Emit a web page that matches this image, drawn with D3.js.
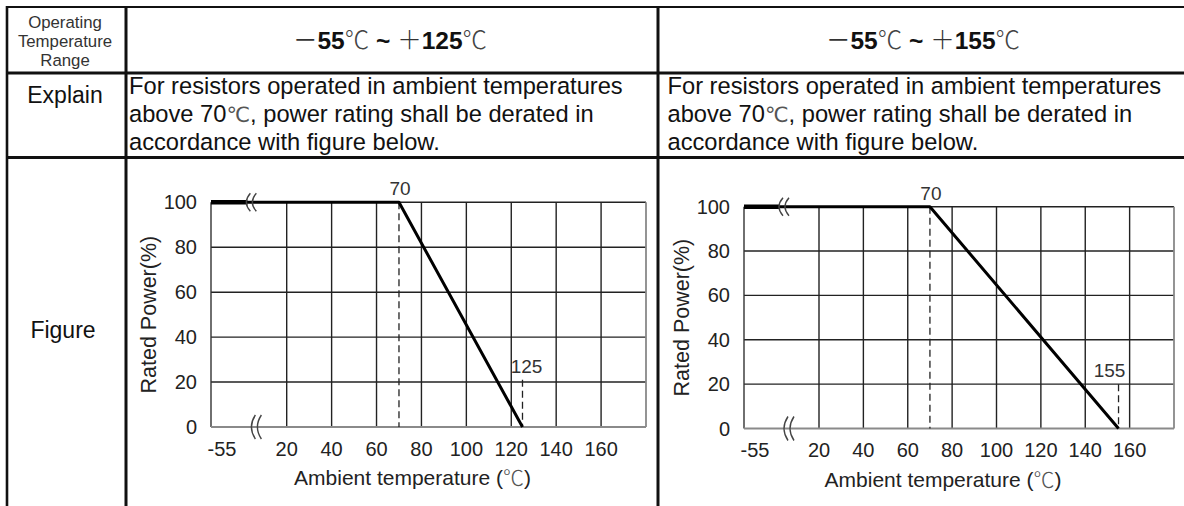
<!DOCTYPE html>
<html><head><meta charset="utf-8">
<script src="https://cdn.jsdelivr.net/npm/d3@7"></script>
<style>
body{margin:0;background:#fff}
svg{display:block}
text{font-family:"Liberation Sans",Arial,Helvetica,sans-serif}
</style>
</head><body>
<svg id="c" width="1184" height="506"></svg>
<script>
// ---------------- data ----------------
const rangeLow = [-55, -55];
const rangeHigh = [125, 155];
const explainLines = [
  "For resistors operated in ambient temperatures",
  "above 70℃, power rating shall be derated in",
  "accordance with figure below."
];
const rowLabels = ["Operating|Temperature|Range", "Explain", "Figure"];
const yTicks = [0, 20, 40, 60, 80, 100];
const xTickLabels = [-55, 20, 40, 60, 80, 100, 120, 140, 160];
const xGrid = [20, 40, 60, 80, 100, 120, 140, 160];
const xDomain = [-55, 20, 180];          // broken axis: -55 // 20 ... 180
const kneeTemp = [70, 70];
const endTemp = [125, 155];
const curveTemps = [[-55, 70, 125], [-55, 70, 155]];
const curvePower = [[100, 100, 0], [100, 100, 0]];
const endMarkTop = [21, 20];              // top of dashed drop at end temp (%)
const breakTop = -17, breakBottom = -12;  // axis break position (°C)

// ---------------- layout ----------------
const svg = d3.select("#c");
svg.append("rect").attr("width", 1184).attr("height", 506).attr("fill", "#fff");

const CJK = "'Noto Sans CJK SC','Noto Sans CJK JP',sans-serif";
const SYM = "'DejaVu Sans',sans-serif";
const INK = "#111";

// table borders
const tb = svg.append("g").attr("stroke", "#111").attr("fill", "none");
tb.append("line").attr("x1", 6).attr("x2", 1184).attr("y1", 7).attr("y2", 7).attr("stroke-width", 2.2);
tb.append("line").attr("x1", 6).attr("x2", 1184).attr("y1", 73).attr("y2", 73).attr("stroke-width", 3);
tb.append("line").attr("x1", 6).attr("x2", 1184).attr("y1", 157.5).attr("y2", 157.5).attr("stroke-width", 3);
tb.append("line").attr("x1", 7).attr("x2", 7).attr("y1", 6).attr("y2", 506).attr("stroke-width", 2.6);
tb.append("line").attr("x1", 126).attr("x2", 126).attr("y1", 6).attr("y2", 506).attr("stroke-width", 3);
tb.append("line").attr("x1", 658).attr("x2", 658).attr("y1", 6).attr("y2", 506).attr("stroke-width", 3);

// row labels
const opLines = rowLabels[0].split("|");
const opBase = [28, 47, 66];
opLines.forEach((t, k) => {
  svg.append("text").attr("x", 65).attr("y", opBase[k]).attr("text-anchor", "middle")
    .attr("font-size", 16.8).attr("fill", "#333").text(t);
});
svg.append("text").attr("x", 65).attr("y", 103).attr("text-anchor", "middle")
  .attr("font-size", 23).attr("fill", INK).text(rowLabels[1]);
svg.append("text").attr("x", 63).attr("y", 338).attr("text-anchor", "middle")
  .attr("font-size", 23).attr("fill", INK).text(rowLabels[2]);

// column headers and explanations
const colCenter = [390, 923];
const colTextX = [129, 667.5];
function addTitle(i) {
  const t = svg.append("text").attr("x", colCenter[i]).attr("y", 48.5)
    .attr("text-anchor", "middle").attr("font-size", 24.5).attr("fill", INK);
  const lowAbs = Math.abs(rangeLow[i]);
  const parts = [
    {s: "－", f: CJK, w: 400, c: "#333"},
    {s: String(lowAbs), w: 700},
    {s: "℃", f: CJK, w: 300, c: "#444"},
    {s: " ~ ", w: 700},
    {s: "＋", f: CJK, w: 300, c: "#333"},
    {s: String(rangeHigh[i]), w: 700},
    {s: "℃", f: CJK, w: 300, c: "#444"}
  ];
  parts.forEach(p => {
    const ts = t.append("tspan").text(p.s).attr("font-weight", p.w);
    if (p.f) ts.style("font-family", p.f);
    if (p.c) ts.attr("fill", p.c);
  });
}
function addExplain(i) {
  const base = [94, 122, 149.5];
  explainLines.forEach((line, k) => {
    const t = svg.append("text").attr("x", colTextX[i]).attr("y", base[k])
      .attr("font-size", 23.7).attr("fill", INK);
    const segs = line.split("℃");
    segs.forEach((s, j) => {
      t.append("tspan").text(s);
      if (j < segs.length - 1) {
        t.append("tspan").text("℃").style("font-family", SYM).attr("font-size", 21).attr("fill", "#555");
      }
    });
  });
}
addTitle(0); addTitle(1);
addExplain(0); addExplain(1);

// ---------------- charts ----------------
const panelX = [[211, 286.7, 646], [744, 819, 1174]];
const panelY = [[427, 202.3], [428.5, 206.7]];
const endLabelShift = [4, -9];

function chevrons(g, cx, cy, h) {
  [0, 6].forEach(dx => {
    const x0 = cx + dx;
    g.append("path")
      .attr("d", `M${x0 + 7},${cy - h} Q${x0 - 1},${cy} ${x0 + 7},${cy + h}`)
      .attr("fill", "none").attr("stroke", "#444").attr("stroke-width", 1.4);
  });
}

function panel(i) {
  const x = d3.scaleLinear().domain(xDomain).range(panelX[i]);
  const y = d3.scaleLinear().domain([0, 100]).range(panelY[i]);
  const g = svg.append("g");
  const xl = x(xDomain[0]), xr = x(xDomain[2]);

  // horizontal grid
  g.selectAll(".hg").data(yTicks.filter(v => v > 0)).enter().append("line")
    .attr("x1", xl).attr("x2", xr).attr("y1", d => y(d)).attr("y2", d => y(d))
    .attr("stroke", "#222").attr("stroke-width", 1.4);
  // vertical grid
  g.selectAll(".vg").data(xGrid).enter().append("line")
    .attr("x1", d => x(d)).attr("x2", d => x(d)).attr("y1", y(0)).attr("y2", y(100))
    .attr("stroke", "#222").attr("stroke-width", 1.4);
  // frame edges
  g.append("line").attr("x1", xl).attr("x2", xl).attr("y1", y(0)).attr("y2", y(100))
    .attr("stroke", "#333").attr("stroke-width", 1.4);
  g.append("line").attr("x1", xr).attr("x2", xr).attr("y1", y(0)).attr("y2", y(100))
    .attr("stroke", "#888").attr("stroke-width", 1.8);
  g.append("line").attr("x1", xl).attr("x2", xr).attr("y1", y(0)).attr("y2", y(0))
    .attr("stroke", "#8a8a8a").attr("stroke-width", 2.2);

  // dashed drops
  g.append("line").attr("x1", x(kneeTemp[i])).attr("x2", x(kneeTemp[i]))
    .attr("y1", y(100)).attr("y2", y(0))
    .attr("stroke", "#222").attr("stroke-width", 1.3).attr("stroke-dasharray", "7,4");
  g.append("line").attr("x1", x(endTemp[i])).attr("x2", x(endTemp[i]))
    .attr("y1", y(endMarkTop[i])).attr("y2", y(0))
    .attr("stroke", "#222").attr("stroke-width", 1.3).attr("stroke-dasharray", "7,4");

  // derating curve
  const pts = curveTemps[i].map((t, k) => [t, curvePower[i][k]]);
  g.append("path")
    .attr("d", d3.line().x(d => x(d[0])).y(d => y(d[1]))(pts))
    .attr("fill", "none").attr("stroke", "#000").attr("stroke-width", 3)
    .attr("stroke-linejoin", "round");
  g.append("path")
    .attr("d", d3.line().x(d => x(d[0])).y(d => y(d[1]))([[xDomain[0], 100], [breakTop - 2, 100]]))
    .attr("fill", "none").attr("stroke", "#000").attr("stroke-width", 4.5);

  // axis breaks
  chevrons(g, x(breakTop) - 6, y(100), 9);
  chevrons(g, x(breakBottom) - 6, y(0), 12);

  // y tick labels
  g.selectAll(".yt").data(yTicks).enter().append("text")
    .attr("x", xl - 14).attr("y", d => y(d) + 7).attr("text-anchor", "end")
    .attr("font-size", 20).attr("fill", "#222").text(d => d);
  // x tick labels
  g.selectAll(".xt").data(xTickLabels).enter().append("text")
    .attr("x", d => d === xDomain[0] ? x(d) + 11 : x(d)).attr("y", y(0) + 28.5)
    .attr("text-anchor", "middle").attr("font-size", 20).attr("fill", "#222").text(d => d);

  // annotations
  g.append("text").attr("x", x(kneeTemp[i]) + 1).attr("y", y(100) - 7)
    .attr("text-anchor", "middle").attr("font-size", 19).attr("fill", "#333").text(kneeTemp[i]);
  g.append("text").attr("x", x(endTemp[i]) + endLabelShift[i]).attr("y", y(endMarkTop[i]) - 7)
    .attr("text-anchor", "middle").attr("font-size", 19).attr("fill", "#333").text(endTemp[i]);

  // axis titles
  const yc = (y(0) + y(100)) / 2;
  g.append("text").attr("transform", `translate(${xl - 55},${yc}) rotate(-90)`)
    .attr("text-anchor", "middle").attr("font-size", 21.5).attr("fill", "#222")
    .text("Rated Power(%)");
  const xt = g.append("text").attr("x", (xl + xr) / 2 - 16).attr("y", y(0) + 58)
    .attr("text-anchor", "middle").attr("font-size", 21).attr("fill", "#222");
  xt.append("tspan").text("Ambient temperature (");
  xt.append("tspan").text("℃").style("font-family", CJK).attr("font-weight", 300).attr("fill", "#555");
  xt.append("tspan").text(")");
}
panel(0); panel(1);
</script>
</body></html>
